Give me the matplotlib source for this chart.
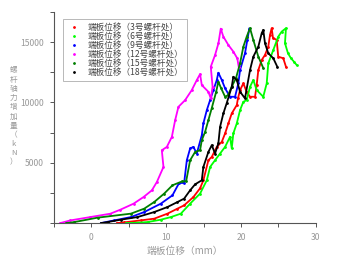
import numpy as np
import matplotlib
matplotlib.use("Agg")
import matplotlib.pyplot as plt
from matplotlib.lines import Line2D
from matplotlib.ticker import MultipleLocator

plt.rcParams['font.family'] = ['Noto Sans CJK SC', 'DejaVu Sans']

# --- data ---
labels = ["端板位移（3号螺杆处）", "端板位移（6号螺杆处）", "端板位移（9号螺杆处）",
          "端板位移（12号螺杆处）", "端板位移（15号螺杆处）", "端板位移（18号螺杆处）"]
colors = ["#ff0000", "#00ff00", "#0000ff", "#ff00ff", "#007f00", "#000000"]

x3 = [3.43, 4.4, 6.63, 8.4, 10.17, 11.51, 12.4, 13.64, 14.53, 14.97, 15.64, 16.09, 16.76, 17.43,
      17.87, 18.31, 18.76, 19.43, 19.6, 19.87, 20.31, 20.76, 21.2, 21.87, 22.09, 22.31, 22.76,
      23.2, 23.64, 23.87, 24.09, 24.27, 24.76, 24.97, 25.64, 26.0]
y3 = [0, 58, 224, 365, 781, 1196, 1470, 2160, 2882, 3547, 5208, 5482, 6313, 6728,
      7426, 8256, 9087, 9776, 10358, 11022, 11579, 10856, 10466, 10466, 11437, 12683, 13514,
      13929, 14619, 15591, 16147, 15341, 15175, 13788, 13655, 12957]

x6 = [4.67, 5.73, 7.51, 9.29, 10.63, 11.96, 13.2, 14.53, 15.43, 15.87, 16.53, 17.2, 17.87, 18.53,
      18.76, 18.97, 19.43, 19.87, 20.31, 20.76, 21.2, 21.64, 22.09, 22.97, 23.43, 23.64, 24.31,
      24.97, 25.43, 26.0, 25.87, 26.27, 26.67, 27.07, 27.43]
y6 = [0, 17, 83, 282, 498, 781, 1611, 2442, 3547, 4651, 5208, 5764, 6313, 7143,
      6180, 7426, 8256, 9361, 10050, 10191, 11296, 11853, 11022, 10466, 11579, 13240, 14345,
      15449, 15865, 16147, 14901, 14070, 13655, 13373, 13099]

x9 = [1.29, 3.07, 5.29, 7.07, 9.29, 10.84, 11.73, 12.4, 12.76, 13.2, 13.64, 14.09, 14.76, 14.97,
      15.43, 15.87, 16.31, 16.76, 16.97, 17.43, 17.87, 18.53, 19.2, 19.64, 19.87, 20.53, 20.84, 21.11]
y9 = [0, 224, 498, 914, 1611, 2301, 3322, 3322, 5208, 6180, 6313, 5764, 7284, 8256,
      9361, 10191, 11022, 11853, 12459, 11853, 11163, 10466, 10466, 11579, 12683, 14070, 15175, 16114]

x12 = [-4.13, -2.8, -0.13, 2.53, 3.87, 5.64, 6.98, 8.09, 8.76, 9.64, 9.42, 10.09, 10.76, 11.2,
       11.64, 12.53, 13.42, 14.09, 14.53, 14.76, 15.64, 15.96, 16.2, 15.96, 16.53, 16.98, 17.29,
       17.64, 18.31, 18.98, 19.5, 19.69]
y12 = [0, 221, 498, 775, 1107, 1605, 2159, 2713, 3405, 4650, 6034, 6311, 7142, 8525,
       9633, 10186, 11017, 11847, 12345, 11432, 10878, 10325, 11293, 12954, 13923, 14892, 16110,
       15446, 14754, 14200, 13646, 12954]

x15 = [-3.33, -2.27, 0.84, 5.29, 7.07, 8.4, 9.73, 10.84, 12.17, 12.67, 13.2, 13.87, 14.53, 14.76,
       15.2, 15.64, 16.09, 16.67, 16.97, 17.33, 17.87, 18.27, 18.8, 19.33, 19.87, 20.31, 20.76,
       21.2, 21.64, 22.31, 22.97]
y15 = [0, 83, 449, 781, 1196, 1744, 2442, 3131, 3464, 3464, 5208, 5897, 6039, 6869,
       7558, 8530, 9527, 10856, 11712, 11188, 10466, 10607, 11355, 12019, 13240, 14619, 15449,
       16147, 15175, 13788, 12849]

x18 = [1.33, 2.17, 3.96, 6.17, 8.4, 10.17, 11.51, 12.4, 13.2, 13.87, 14.76, 14.97, 15.64, 16.09,
       16.53, 16.97, 17.2, 17.64, 18.09, 18.76, 18.97, 19.43, 19.87, 20.53, 21.2, 21.64, 22.31,
       22.76, 22.97, 23.2, 23.64, 24.31, 24.84]
y18 = [0, 83, 282, 498, 914, 1329, 1744, 2027, 2716, 3214, 3547, 4651, 5897, 6454,
       5764, 6595, 7974, 9087, 9942, 11296, 12127, 11853, 10881, 10333, 12683, 13788, 14619,
       15732, 16006, 14901, 14070, 13655, 12957]

xs = [x3, x6, x9, x12, x15, x18]
ys = [y3, y6, y9, y12, y15, y18]

ylabel_chars = "螺杆轴力增加量（kN）"

fig = plt.figure(figsize=(3.43, 2.64), dpi=100)
ax = fig.add_axes([0.157, 0.155, 0.764, 0.80])

for x, y, c in zip(xs, ys, colors):
    ax.plot(x, y, color=c, lw=1.3, marker='.', ms=2)

ax.set_xlim(-5, 30)
ax.set_ylim(0, 17500)
ax.xaxis.set_major_locator(MultipleLocator(10))
ax.xaxis.set_minor_locator(MultipleLocator(5))
ax.yaxis.set_major_locator(MultipleLocator(5000))
ax.yaxis.set_minor_locator(MultipleLocator(2500))
ax.yaxis.set_major_formatter(plt.FuncFormatter(lambda v, p: "" if v == 0 else f"{v:.0f}"))

for s in ["top", "right"]:
    ax.spines[s].set_visible(False)
for s in ["left", "bottom"]:
    ax.spines[s].set_color("#555555")
    ax.spines[s].set_linewidth(0.8)
ax.tick_params(which="both", direction="out", length=3, width=0.7, color="#555555",
               labelsize=6.2, labelcolor="#999999", pad=4)

ax.set_xlabel("端板位移（mm）", fontsize=7, color="#999999", labelpad=3)
# y label as stacked upright characters
fig.text(0.04, 0.559, "\n".join(ylabel_chars), fontsize=5.5, color="#999999",
         ha="center", va="center", linespacing=1.2)

handles = [Line2D([], [], color=c, marker='.', ms=2, ls='none') for c in colors]
leg = ax.legend(handles, labels, loc="upper left", bbox_to_anchor=(0.034, 0.967),
                borderaxespad=0, fontsize=6.2, frameon=True, fancybox=False,
                handlelength=1.6, handletextpad=0.8, labelspacing=0.0, borderpad=0.45)
leg.get_frame().set_edgecolor("#999999")
leg.get_frame().set_linewidth(0.6)
for t in leg.get_texts():
    t.set_color("#444444")

fig.savefig("out.png", dpi=100)
